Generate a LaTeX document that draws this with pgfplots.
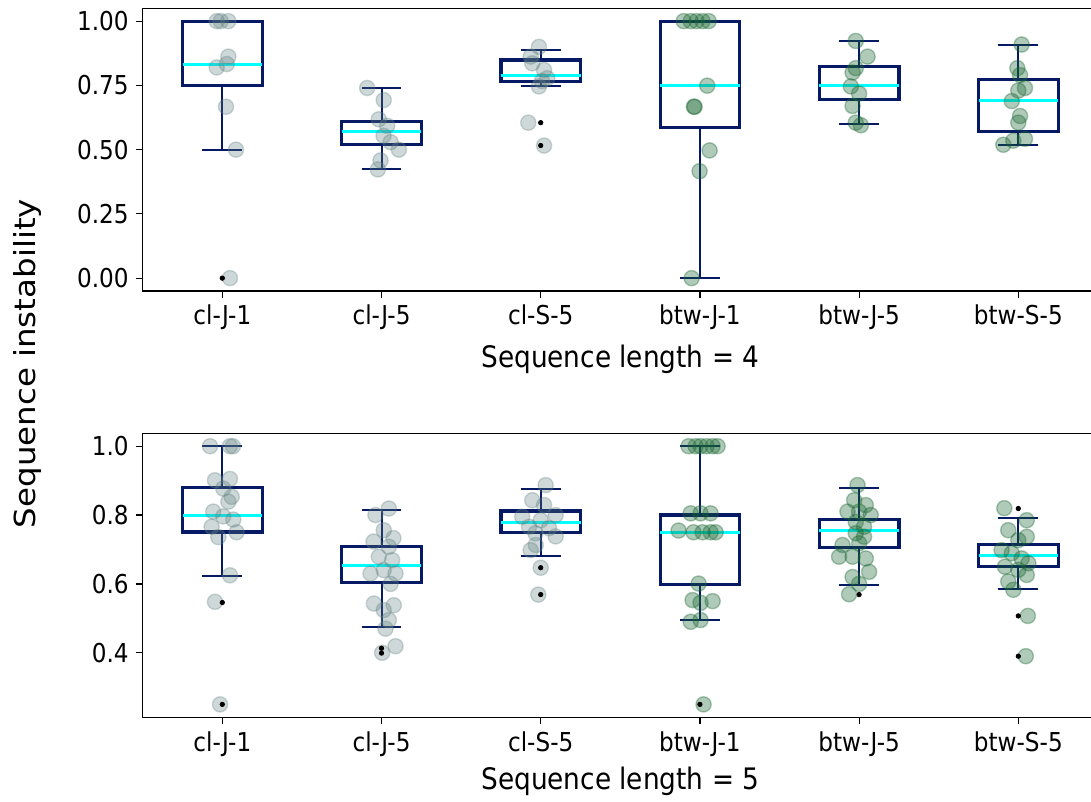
\documentclass[border=0pt]{standalone}
\usepackage{fontspec}
\setmainfont[FakeStretch=0.89]{DejaVu Sans}
\newfontfamily\ylabfont[FakeStretch=1.12]{DejaVu Sans}
\usepackage{pgfplots}
\pgfplotsset{compat=1.18}
\usepgfplotslibrary{statistics}
\definecolor{navyc}{RGB}{5,25,100}
\definecolor{cyanc}{RGB}{0,255,255}
\definecolor{ptgrey}{RGB}{95,127,127}
\definecolor{ptgreen}{RGB}{26,102,51}
\newcommand{\bx}[6]{\addplot[draw=navyc, boxplot prepared={draw position=#1, lower whisker=#2, lower quartile=#3, median=#4, upper quartile=#5, upper whisker=#6}] coordinates {};}
\pgfplotsset{
  myaxis/.style={
    scale only axis, width=477.6pt,
    xmin=0.5, xmax=6.5,
    xtick={1,2,3,4,5,6},
    xticklabels={cl-J-1,cl-J-5,cl-S-5,btw-J-1,btw-J-5,btw-S-5},
    tick align=outside, tick pos=left,
    major tick length=3.5pt,
    tick style={black, line width=0.6pt},
    axis line style={line width=0.75pt},
    tick label style={font=\fontsize{13}{15}\selectfont},
    /pgf/number format/assume math mode=true,
    /pgf/number format/fixed, /pgf/number format/fixed zerofill,
    xlabel style={font=\fontsize{14.8}{17}\selectfont, at={(axis description cs:0.5,0)}, anchor=base, yshift=-38.5pt},
    boxplot/draw direction=y,
    boxplot/box extend=0.5, boxplot/whisker extend=0.25,
    boxplot/every box/.style={draw=navyc, line width=1.6pt},
    boxplot/every whisker/.style={draw=navyc, line width=1.0pt},
    boxplot/every median/.style={draw=cyanc, line width=1.5pt},
  },
  greypts/.style={only marks, mark=*, mark size=3.8pt, mark options={fill=ptgrey, draw=ptgrey, line width=0.7pt, opacity=0.3}},
  greenpts/.style={only marks, mark=*, mark size=3.8pt, mark options={fill=ptgreen, draw=ptgreen, line width=0.7pt, opacity=0.35}},
  fliers/.style={only marks, mark=*, mark size=1.1pt, mark options={fill=black, draw=black}},
}
\begin{document}
\begin{tikzpicture}
\useasboundingbox (0,0) rectangle (545.5pt,401pt);
\clip (0,0) rectangle (545.5pt,401pt);
% ---------- top panel ----------
\begin{axis}[myaxis, at={(71.35pt,255.5pt)}, anchor=south west, height=141.35pt,
  ymin=-0.05, ymax=1.05, ytick={0,0.25,0.5,0.75,1}, /pgf/number format/precision=2,
  xlabel={Sequence length = 4}]
\addplot[greypts] coordinates {
(0.965,1.0) (1.038,1.0) (0.99,1.0) (1.038,0.862) (0.965,0.82) (1.028,0.833) (1.023,0.667) (1.086,0.5) (1.048,0.0)
(1.91,0.74) (2.014,0.693) (1.983,0.618) (2.036,0.593) (2.013,0.554) (2.057,0.529) (2.109,0.50) (1.994,0.458) (1.977,0.423)
(2.989,0.9) (2.937,0.862) (2.947,0.836) (3.021,0.81) (3.041,0.778) (3.008,0.767) (2.989,0.746) (2.922,0.605) (3.021,0.516)
};
\addplot[greenpts] coordinates {
(3.898,1) (3.942,1) (3.979,1) (4.017,1) (4.055,1) (4.046,0.749) (3.962,0.667) (3.967,0.667) (4.061,0.497) (3.998,0.416) (3.948,0)
(4.979,0.923) (5.053,0.862) (4.979,0.817) (4.959,0.80) (4.948,0.746) (5.0,0.718) (4.959,0.67) (4.979,0.605) (5.011,0.595)
(6.021,0.909) (5.994,0.817) (6.011,0.79) (6.042,0.74) (6.0,0.73) (5.959,0.689) (6.011,0.631) (6.0,0.605) (6.042,0.542) (5.906,0.519) (5.969,0.535)
};
\bx{1}{0.5}{0.75}{0.833}{1.0}{1.0}
\bx{2}{0.423}{0.52}{0.571}{0.608}{0.74}
\bx{3}{0.746}{0.765}{0.788}{0.849}{0.887}
\bx{4}{0.0}{0.586}{0.749}{1.0}{1.0}
\bx{5}{0.599}{0.695}{0.749}{0.823}{0.923}
\bx{6}{0.519}{0.570}{0.691}{0.772}{0.909}
\addplot[fliers] coordinates {(1,0) (3,0.605) (3,0.516)};
\end{axis}
% ---------- bottom panel ----------
\begin{axis}[myaxis, at={(71.35pt,42.35pt)}, anchor=south west, height=142pt,
  ymin=0.2125, ymax=1.0375, ytick={0.4,0.6,0.8,1.0}, /pgf/number format/precision=1,
  xlabel={Sequence length = 5}, xlabel style={yshift=2.6pt}]
\addplot[greypts] coordinates {
(0.923,1.0) (1.048,1.0) (1.067,1.0) (0.954,0.901) (1.048,0.905) (1.006,0.877) (1.059,0.853) (1.038,0.839)
(0.943,0.81) (1.006,0.796) (1.069,0.787) (0.933,0.766) (1.09,0.75) (0.975,0.736) (1.048,0.625) (0.954,0.548) (0.986,0.25)
(2.046,0.819) (1.962,0.80) (2.014,0.756) (2.075,0.733) (1.95,0.723) (2.046,0.708) (1.983,0.679) (2.067,0.669)
(1.931,0.63) (2.014,0.64) (2.088,0.63) (2.057,0.6) (1.952,0.543) (2.014,0.524) (2.077,0.538) (2.046,0.495)
(2.025,0.47) (2.088,0.419) (2.004,0.40)
(3.031,0.887) (2.947,0.843) (3.021,0.829) (2.884,0.795) (3.094,0.80) (3.0,0.785) (2.927,0.766) (3.052,0.762)
(2.967,0.747) (3.094,0.738) (2.969,0.713) (2.937,0.698) (3.0,0.647) (2.985,0.569)
};
\addplot[greenpts] coordinates {
(3.929,1) (3.973,1) (4.004,1) (4.042,1) (4.08,1) (4.111,1)
(3.942,0.805) (4.004,0.805) (4.067,0.805)
(3.866,0.755) (3.96,0.75) (4.017,0.75) (4.067,0.75) (4.099,0.75)
(3.992,0.601) (3.954,0.553) (4.004,0.545) (4.08,0.55) (3.942,0.49) (4.004,0.495) (4.023,0.25)
(4.99,0.887) (4.969,0.843) (5.042,0.829) (5.0,0.81) (4.927,0.81) (5.073,0.80) (4.979,0.78) (5.031,0.766)
(4.979,0.747) (5.031,0.737) (4.896,0.713) (5.0,0.718) (4.874,0.679) (4.959,0.679) (5.042,0.674)
(5.063,0.635) (4.959,0.62) (5.0,0.6) (4.937,0.57)
(5.912,0.82) (6.053,0.785) (5.937,0.756) (6.053,0.737) (6.0,0.727) (5.895,0.698) (5.959,0.689) (6.021,0.674)
(6.063,0.66) (5.916,0.65) (6.0,0.641) (6.053,0.626) (5.937,0.607) (5.969,0.583) (6.06,0.507) (6.047,0.39)
};
\bx{1}{0.623}{0.751}{0.80}{0.879}{1.0}
\bx{2}{0.474}{0.603}{0.654}{0.708}{0.814}
\bx{3}{0.681}{0.749}{0.777}{0.812}{0.875}
\bx{4}{0.495}{0.598}{0.75}{0.80}{1.0}
\bx{5}{0.596}{0.706}{0.756}{0.788}{0.88}
\bx{6}{0.585}{0.65}{0.683}{0.715}{0.792}
\addplot[fliers] coordinates {(1,0.546) (1,0.25) (2,0.413) (2,0.399) (3,0.647) (3,0.569) (4,0.25) (5,0.569) (6,0.819) (6,0.507) (6,0.39)};
\end{axis}
\node[rotate=90, font=\ylabfont\fontsize{14.5}{17}\selectfont] at (13.75pt,219.25pt) {Sequence instability};
\end{tikzpicture}
\end{document}
